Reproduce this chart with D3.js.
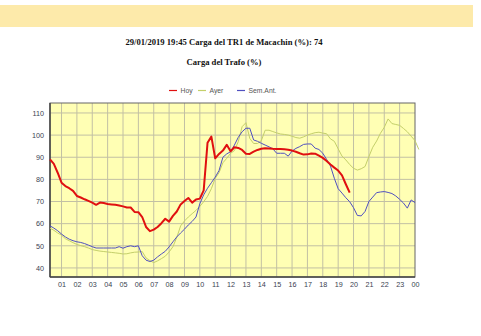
<!DOCTYPE html>
<html>
<head>
<meta charset="utf-8">
<script src="https://cdn.jsdelivr.net/npm/d3@7"></script>
<style>
html,body{margin:0;padding:0;background:#fff;}
svg{display:block;}
</style>
</head>
<body>
<svg id="chart" width="481" height="336"></svg>
<script>
// ---- data (15-minute samples starting at 00:15) ----
const title = "29/01/2019 19:45 Carga del TR1 de Macachin (%): 74";
const subtitle = "Carga del Trafo (%)";
const seriesNames = ["Hoy", "Ayer", "Sem.Ant."];
const xTickLabels = ["01","02","03","04","05","06","07","08","09","10","11","12","13","14","15","16","17","18","19","20","21","22","23","00"];
const yTicks = [40,50,60,70,80,90,100,110];

const hoy = [89,87,83,78.5,77,76,74.8,72.5,71.8,71,70.3,69.5,68.5,69.5,69.3,68.9,
  68.7,68.5,68.2,67.8,67.3,67.3,65.3,65.2,63,58.5,56.6,57.3,58.5,60.2,62.2,60.9,
  63.5,65.5,68.7,70.2,71.6,69.5,70.9,71.3,75,96.5,99.3,89.5,91.5,93,95.6,92.7,
  94.5,94.2,93.3,91.6,91.5,92.5,93.3,93.8,94.1,94,93.8,93.7,93.7,93.6,93.4,93,
  92.5,91.8,91.2,91.3,91.7,91.6,90.7,89.7,88.3,86.7,85.3,84,81.8,77.8,74];

const ayer = [58,57,55.8,54.8,53.2,52.3,51.4,50.6,50.1,49.6,49,48.3,47.9,47.6,47.4,47.2,
  47,46.8,46.6,46.3,46.4,46.8,47.1,47.2,47.4,44.5,43.3,42.4,43.2,44.2,45.3,47.2,
  49.6,53.8,59,61.2,63,64.5,66,67.8,69.9,72.3,75.8,80.5,83,87.5,89.5,91.8,
  93,97,103.8,105.6,98.5,96.2,96.2,97.5,102.2,102.2,101.6,101,100.5,100.3,100,99.5,
  98.9,98.6,99.2,100,100.6,101.1,101.3,100.9,100.6,98.3,97.2,93.8,90.5,88.8,86.7,85,
  84.2,84.8,85.8,90.3,94.5,97.3,100.8,103.5,107.3,105.2,104.8,104.4,103,101.5,99.5,97.5,93.5];

const semAnt = [59,58,56.8,55.3,54,53,52.3,51.8,51.5,51,50.3,49.6,49,49,49,49,
  49,49,49.6,48.9,49.6,50,49.6,50,45.5,43.5,42.9,43.5,45,46.3,47.5,49.5,
  51.8,54,55.8,57.5,59.4,61,63,69,73,76,78.5,81,84,90,91.5,92.5,
  95.5,99,101.5,103.1,103.1,97.8,97.2,96.3,95.5,94.7,93.8,91.8,91.8,91.8,90.5,92.8,
  94,94.8,95.8,96,96,94.1,93.5,91.8,89,86,80.5,75.8,73.8,71.7,69.9,67.2,
  63.7,63.5,65.5,70,72,74,74.3,74.5,74.1,73.6,72.5,71,69.3,67,70.7,69.5];

const colors = ["#e01010", "#c4cf6a", "#5050c0"];
const widths = [2, 1, 1];

// ---- layout ----
const svg = d3.select("#chart");
const plot = {left: 50, right: 415, top: 103, bottom: 277};

svg.append("rect").attr("x", 0).attr("y", 5).attr("width", 473).attr("height", 22)
  .attr("fill", "#fdeaaa");

svg.append("text").attr("x", 224).attr("y", 45).attr("text-anchor", "middle")
  .attr("font-family", "'Liberation Serif','Times New Roman',serif").attr("font-weight", "bold")
  .attr("font-size", 8.6).attr("fill", "#111").text(title);
svg.append("text").attr("x", 224).attr("y", 65).attr("text-anchor", "middle")
  .attr("font-family", "'Liberation Serif','Times New Roman',serif").attr("font-weight", "bold")
  .attr("font-size", 8.6).attr("fill", "#111").text(subtitle);

const x = d3.scaleLinear().domain([0.25, 24]).range([plot.left, plot.right]);
const y = d3.scaleLinear().domain([35.9, 114.5]).range([plot.bottom, plot.top]);

svg.append("rect").attr("x", plot.left).attr("y", plot.top)
  .attr("width", plot.right - plot.left).attr("height", plot.bottom - plot.top)
  .attr("fill", "#ffffb4");

// grid
const hours = d3.range(1, 24);
svg.append("g").selectAll("line").data(hours).join("line")
  .attr("x1", d => x(d)).attr("x2", d => x(d))
  .attr("y1", plot.top).attr("y2", plot.bottom)
  .attr("stroke", "#c2c0a4").attr("stroke-width", 1);
svg.append("g").selectAll("line").data(yTicks).join("line")
  .attr("x1", plot.left).attr("x2", plot.right)
  .attr("y1", d => y(d)).attr("y2", d => y(d))
  .attr("stroke", "#c2c0a4").attr("stroke-width", 1);

// axes
const tickFont = "'Liberation Sans',Arial,sans-serif";
const yAxis = svg.append("g").attr("transform", `translate(${plot.left},0)`)
  .call(d3.axisLeft(y).tickValues(yTicks).tickSize(0).tickPadding(6));
const xAxis = svg.append("g").attr("transform", `translate(0,${plot.bottom})`)
  .call(d3.axisBottom(x).tickValues(d3.range(1, 25)).tickSize(0).tickPadding(5)
    .tickFormat((d, i) => xTickLabels[i]));
[yAxis, xAxis].forEach(g => {
  g.select(".domain").remove();
  g.selectAll("text").attr("font-family", tickFont).attr("font-size", 7.2).attr("fill", "#3a4150");
});

// frame
svg.append("rect").attr("x", plot.left).attr("y", plot.top)
  .attr("width", plot.right - plot.left).attr("height", plot.bottom - plot.top)
  .attr("fill", "none").attr("stroke", "#666").attr("stroke-width", 1);
svg.append("line").attr("x1", plot.left).attr("x2", plot.left).attr("y1", plot.top).attr("y2", plot.bottom)
  .attr("stroke", "#444").attr("stroke-width", 1.5);
svg.append("line").attr("x1", plot.left).attr("x2", plot.right).attr("y1", plot.bottom).attr("y2", plot.bottom)
  .attr("stroke", "#444").attr("stroke-width", 1.5);

// lines
const line = d3.line().x((d, i) => x(0.25 + i * 0.25)).y(d => y(d));
const allSeries = [ayer, semAnt, hoy];
const order = [1, 2, 0];
allSeries.forEach((s, k) => {
  const idx = order[k];
  svg.append("path").datum(s).attr("d", line)
    .attr("fill", "none").attr("stroke", colors[idx]).attr("stroke-width", widths[idx])
    .attr("stroke-linejoin", "round");
});

// legend
const legendX = [169, 198, 237];
const lg = svg.append("g");
seriesNames.forEach((n, i) => {
  lg.append("line").attr("x1", legendX[i]).attr("x2", legendX[i] + 8)
    .attr("y1", 90.5).attr("y2", 90.5).attr("stroke", colors[i]).attr("stroke-width", 1.2);
  lg.append("text").attr("x", legendX[i] + 11.5).attr("y", 93)
    .attr("font-family", tickFont).attr("font-size", 6.8).attr("fill", "#555").text(n);
});
</script>
</body>
</html>
